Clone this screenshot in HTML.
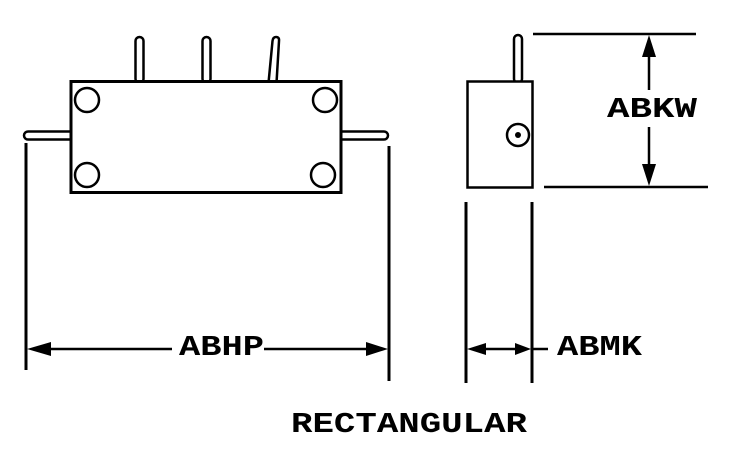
<!DOCTYPE html>
<html><head><meta charset="utf-8"><style>
html,body{margin:0;padding:0;background:#fff;}
svg{display:block;}
text{font-family:"Liberation Mono",monospace;font-weight:bold;font-size:29px;fill:#000;}
</style></head><body>
<svg width="754" height="469" viewBox="0 0 754 469" xmlns="http://www.w3.org/2000/svg">
<g fill="none" stroke="#000">
<!-- top pins -->
<rect x="135.5" y="37" width="8" height="46" rx="4" stroke-width="2.5"/>
<rect x="202.5" y="37" width="8" height="46" rx="4" stroke-width="2.5"/>
<path d="M268.5,83 L272.5,41 Q273,37 276,37 Q279.5,37 279,41 L276.5,83" stroke-width="2.5"/>
<!-- side pins -->
<rect x="24" y="131.5" width="50" height="8" rx="4" stroke-width="2.5"/>
<rect x="338" y="131.5" width="50" height="8" rx="4" stroke-width="2.5"/>
<!-- main body -->
<rect x="71" y="81.5" width="270" height="111" fill="#fff" stroke-width="3"/>
<circle cx="87" cy="100" r="12" stroke-width="2.5"/>
<circle cx="325" cy="100" r="12" stroke-width="2.5"/>
<circle cx="87" cy="175" r="12" stroke-width="2.5"/>
<circle cx="323" cy="175" r="12" stroke-width="2.5"/>
<!-- extension lines ABHP -->
<line x1="26" y1="143" x2="26" y2="370" stroke-width="3"/>
<line x1="389" y1="146" x2="389" y2="381" stroke-width="3"/>
<line x1="48" y1="349" x2="172" y2="349" stroke-width="2.5"/>
<line x1="264" y1="349" x2="368" y2="349" stroke-width="2.5"/>
<!-- side view -->
<rect x="514" y="35" width="8" height="48" rx="4" stroke-width="2.5"/>
<rect x="467.5" y="81.5" width="65" height="106" fill="#fff" stroke-width="2.5"/>
<circle cx="518" cy="135" r="11" stroke-width="2.5"/>
<!-- ABKW dims -->
<line x1="533" y1="34" x2="696" y2="34" stroke-width="2.5"/>
<line x1="544" y1="187" x2="708" y2="187" stroke-width="2.5"/>
<line x1="649" y1="52" x2="649" y2="90" stroke-width="2.5"/>
<line x1="649" y1="127" x2="649" y2="170" stroke-width="2.5"/>
<!-- ABMK -->
<line x1="466" y1="202" x2="466" y2="383" stroke-width="3"/>
<line x1="532" y1="202" x2="532" y2="383" stroke-width="3"/>
<line x1="482" y1="349" x2="520" y2="349" stroke-width="2.5"/>
<line x1="532" y1="349" x2="548" y2="349" stroke-width="2.5"/>
</g>
<circle cx="518" cy="135" r="3" fill="#000"/>
<!-- arrowheads -->
<g fill="#000">
<polygon points="27,349 51,342 51,356"/>
<polygon points="388,349 366,342 366,356"/>
<polygon points="649,35 642,57 656,57"/>
<polygon points="649,186 642,164 656,164"/>
<polygon points="467,349 486,343 486,355"/>
<polygon points="531,349 515,343 515,355"/>
</g>
<text x="179" y="355" textLength="85" lengthAdjust="spacingAndGlyphs">ABHP</text>
<text x="557" y="355" textLength="85" lengthAdjust="spacingAndGlyphs">ABMK</text>
<text x="607" y="117" textLength="90" lengthAdjust="spacingAndGlyphs">ABKW</text>
<text x="291" y="432" textLength="236" lengthAdjust="spacingAndGlyphs">RECTANGULAR</text>
</svg>
</body></html>
